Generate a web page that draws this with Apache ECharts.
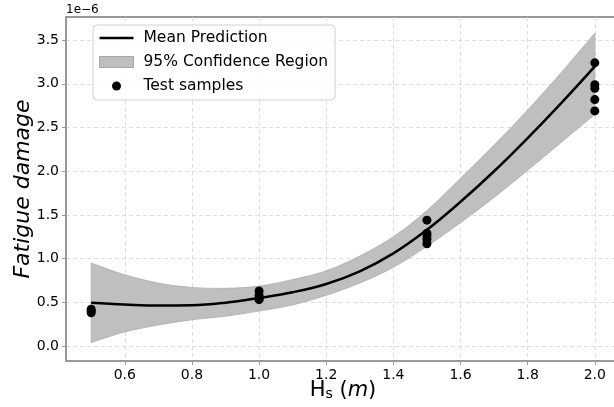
<!DOCTYPE html>
<html><head><meta charset="utf-8">
<script src="https://cdn.jsdelivr.net/npm/echarts@6/dist/echarts.min.js"></script>
<style>html,body{margin:0;padding:0;background:#fff}#c{width:614px;height:407px}</style>
</head><body><div id="c"></div>
<script>
// Hs grid (m) and model curves (units of 1e-6)
const xGrid     = [0.5, 0.6, 0.7, 0.8, 0.9, 1.0, 1.1, 1.2, 1.3, 1.4, 1.5, 1.6, 1.7, 1.8, 1.9, 2.0];
const meanPred  = [0.495, 0.475, 0.462, 0.465, 0.495, 0.55, 0.615, 0.71, 0.855, 1.06, 1.33, 1.65, 2.0, 2.38, 2.78, 3.2];
const upperBand = [0.95, 0.815, 0.72, 0.67, 0.66, 0.685, 0.76, 0.86, 1.03, 1.25, 1.55, 1.92, 2.30, 2.70, 3.13, 3.58];
const lowerBand = [0.04, 0.16, 0.24, 0.30, 0.34, 0.40, 0.47, 0.58, 0.72, 0.90, 1.14, 1.41, 1.70, 2.01, 2.33, 2.65];
// test samples
const sampleX = [0.5, 0.5, 0.5, 1.0, 1.0, 1.0, 1.0, 1.5, 1.5, 1.5, 1.5, 1.5, 2.0, 2.0, 2.0, 2.0, 2.0];
const sampleY = [0.42, 0.40, 0.38, 0.63, 0.58, 0.54, 0.53, 1.44, 1.29, 1.26, 1.22, 1.17, 3.24, 2.99, 2.95, 2.82, 2.69];
// ticks
const xTicks = [0.6, 0.8, 1.0, 1.2, 1.4, 1.6, 1.8, 2.0];
const yTicks = [0.0, 0.5, 1.0, 1.5, 2.0, 2.5, 3.0, 3.5];

const FONT = 'DejaVu Sans';
const meanData  = xGrid.map((x, i) => [x, meanPred[i]]);
const sampleData = sampleX.map((x, i) => [x, sampleY[i]]);
const bandData = xGrid.map((x, i) => [x, lowerBand[i], upperBand[i]]);

// Catmull-Rom -> cubic bezier segments through pixel points
function crSegs(pts) {
  let d = '';
  for (let i = 0; i < pts.length - 1; i++) {
    const p0 = pts[Math.max(0, i - 1)], p1 = pts[i], p2 = pts[i + 1], p3 = pts[Math.min(pts.length - 1, i + 2)];
    const t = 1 / 6;
    const c1 = [p1[0] + (p2[0] - p0[0]) * t, p1[1] + (p2[1] - p0[1]) * t];
    const c2 = [p2[0] - (p3[0] - p1[0]) * t, p2[1] - (p3[1] - p1[1]) * t];
    d += ' C' + c1[0] + ',' + c1[1] + ' ' + c2[0] + ',' + c2[1] + ' ' + p2[0] + ',' + p2[1];
  }
  return d;
}

const gridLine = { show: true, lineStyle: { type: [4, 3], color: '#d6d6d6', width: 0.8 } };

const chart = echarts.init(document.getElementById('c'), null, { renderer: 'canvas' });
chart.setOption({
  animation: false,
  backgroundColor: '#fff',
  textStyle: { fontFamily: FONT },
  grid: { left: 66, right: -6, top: 17, bottom: 46, outerBoundsMode: 'none', containLabel: false,
          show: true, borderColor: '#333', borderWidth: 1.2, backgroundColor: 'transparent' },
  xAxis: {
    type: 'value', min: 0.425, max: 2.075,
    axisLine: { show: true, onZero: false, lineStyle: { color: '#999', width: 1.8 } },
    axisTick: { show: true, customValues: xTicks, length: 4, lineStyle: { color: '#999', width: 1 } },
    axisLabel: { customValues: xTicks, formatter: v => v.toFixed(1), color: '#000', fontSize: 14, fontFamily: FONT, margin: 7 },
    splitLine: gridLine,
    name: '{h|H}{s|s}{h| (}{m|m}{h|)}',
    nameLocation: 'middle', nameGap: 14, nameMoveOverlap: false,
    nameTextStyle: {
      rich: {
        h: { fontSize: 21, fontFamily: FONT, color: '#000', lineHeight: 26, verticalAlign: 'bottom' },
        s: { fontSize: 14, fontFamily: FONT, color: '#000', lineHeight: 20, verticalAlign: 'bottom' },
        m: { fontSize: 21, fontFamily: FONT, fontStyle: 'italic', color: '#000', lineHeight: 26, verticalAlign: 'bottom' }
      }
    }
  },
  yAxis: {
    type: 'value', min: -0.172, max: 3.765,
    axisLine: { show: true, onZero: false, lineStyle: { color: '#999', width: 1.8 } },
    axisTick: { show: true, customValues: yTicks, length: 4, lineStyle: { color: '#999', width: 1 } },
    axisLabel: { customValues: yTicks, formatter: v => v.toFixed(1), color: '#000', fontSize: 14, fontFamily: FONT, margin: 7 },
    splitLine: gridLine,
    name: 'Fatigue damage', nameLocation: 'middle', nameRotate: 90, nameGap: 32, nameMoveOverlap: false,
    nameTextStyle: { fontSize: 22, fontStyle: 'italic', fontFamily: FONT, color: '#000' }
  },
  legend: {
    left: 93, top: 25, orient: 'vertical',
    padding: [5, 7, 6, 6], itemGap: 8, itemWidth: 34, itemHeight: 14,
    backgroundColor: 'rgba(255,255,255,0.8)', borderColor: '#d0d0d0', borderWidth: 1, borderRadius: 4,
    selectedMode: false,
    textStyle: { fontSize: 15.5, fontFamily: FONT, color: '#000', padding: [0, 0, 0, 5] },
    data: [
      { name: 'Mean Prediction', icon: 'path://M0,0 M34,14 M0,5.8 L34,5.8 L34,8.2 L0,8.2 Z', itemStyle: { color: '#000', borderWidth: 0 } },
      { name: '95% Confidence Region', icon: 'path://M0,0 M34,14 M0,1.5 L34,1.5 L34,12.5 L0,12.5 Z', itemStyle: { color: '#bfbfbf', borderColor: '#a6a6a6', borderWidth: 1 } },
      { name: 'Test samples', icon: 'path://M0,0 M34,14 M12.5,7 A4.5,4.5 0 1 0 21.5,7 A4.5,4.5 0 1 0 12.5,7 Z', itemStyle: { color: '#000', borderWidth: 0 } }
    ]
  },
  graphic: [
    { type: 'text', left: 66, top: 4, style: { text: '1e\u22126', fontSize: 12, fontFamily: FONT, fill: '#000' } }
  ],
  series: [
    { name: '95% Confidence Region', type: 'custom', data: [0], silent: true, z: 2, color: '#bfbfbf',
      renderItem: function (params, api) {
        const up = bandData.map(d => api.coord([d[0], d[2]]));
        const lo = bandData.map(d => api.coord([d[0], d[1]])).reverse();
        const path = 'M' + up[0][0] + ',' + up[0][1] + crSegs(up) +
                     ' L' + lo[0][0] + ',' + lo[0][1] + crSegs(lo) + ' Z';
        return { type: 'path', shape: { pathData: path },
          style: { fill: '#bfbfbf', stroke: '#adadad', lineWidth: 0.8 } };
      }
    },
    { name: 'Mean Prediction', type: 'line', data: meanData, smooth: 0.4, symbol: 'none', showSymbol: false,
      lineStyle: { color: '#000', width: 2.5 }, color: '#000', z: 3 },
    { name: 'Test samples', type: 'scatter', data: sampleData, symbol: 'circle', symbolSize: 9,
      itemStyle: { color: '#000', opacity: 1 }, z: 4 }
  ]
});
</script></body></html>
